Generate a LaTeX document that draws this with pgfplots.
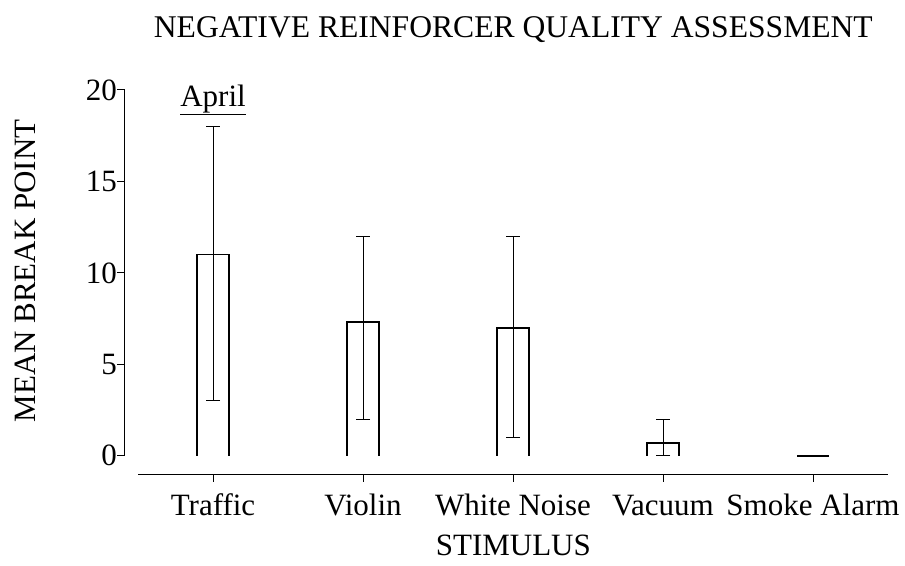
\documentclass[border=0pt]{standalone}
\usepackage{fontspec}
\setmainfont{Liberation Serif}
\usepackage{pgfplots}
\pgfplotsset{compat=1.18}
\begin{document}
\fontsize{31}{37}\selectfont
\begin{tikzpicture}
\useasboundingbox (-125pt,-91pt) rectangle (780pt,474pt);
\begin{axis}[
  scale only axis, width=763pt, height=384pt,
  xmin=-0.587, xmax=4.5, ymin=-1, ymax=20,
  axis x line=bottom, axis y line=left,
  axis line style={draw=none},
  tick align=outside, major tick length=7.5pt,
  tick style={black, line width=1pt},
  xtick={0,1,2,3,4},
  xticklabels={Traffic,Violin,White Noise,Vacuum,Smoke Alarm},
  ytick={0,5,10,15,20},
  /pgf/number format/assume math mode=true,
  font=\fontsize{31}{37}\selectfont,
  ticklabel style={font=\fontsize{31}{37}\selectfont},
  xticklabel style={text height=0.7em, text depth=0.25em, yshift=-2pt},
  yticklabel style={inner xsep=0.5pt},
  title={NEGATIVE REINFORCER QUALITY ASSESSMENT},
  title style={at={(axis description cs:0.509,1.141)}, anchor=center, font=\fontsize{31.6}{38}\selectfont},
  xlabel={STIMULUS},
  xlabel style={at={(axis description cs:0.509,-0.186)}, anchor=center, inner sep=0pt},
  ylabel={MEAN BREAK POINT},
  ylabel style={at={(axis description cs:-0.13,0.529)}, anchor=center, inner sep=0pt},
  clip=false,
]
% bar outlines (open at the bottom), bar width 0.213
\addplot[line width=1.6pt, mark=none] coordinates {(-0.1065,0) (-0.1065,11) (0.1065,11) (0.1065,0)};
\addplot[line width=1.6pt, mark=none] coordinates {(0.8935,0) (0.8935,7.3) (1.1065,7.3) (1.1065,0)};
\addplot[line width=1.6pt, mark=none] coordinates {(1.8935,0) (1.8935,7.0) (2.1065,7.0) (2.1065,0)};
\addplot[line width=1.6pt, mark=none] coordinates {(2.8935,0) (2.8935,0.7) (3.1065,0.7) (3.1065,0)};
\addplot[line width=1.6pt, mark=none] coordinates {(3.8935,0) (4.1065,0)};
% error bars
\addplot[draw=none, mark=none,
  error bars/.cd, y dir=both, y explicit,
  error bar style={line width=0.8pt, black},
  error mark options={rotate=90, mark size=7pt, line width=0.8pt, black}]
coordinates {
  (0,11)  += (0,7)   -= (0,8)
  (1,7.3) += (0,4.7) -= (0,5.3)
  (2,7.0) += (0,5.0) -= (0,6.0)
  (3,0.7) += (0,1.3) -= (0,0.7)
};
\draw[line width=1pt] (axis cs:-0.5,-1) -- (axis cs:4.5,-1);
\draw[line width=1pt] (axis cs:-0.587,0) -- (axis cs:-0.587,20);
\node[font=\fontsize{31}{37}\selectfont] at (axis cs:0,19.45) {\underline{April}};
\end{axis}
\end{tikzpicture}
\end{document}
